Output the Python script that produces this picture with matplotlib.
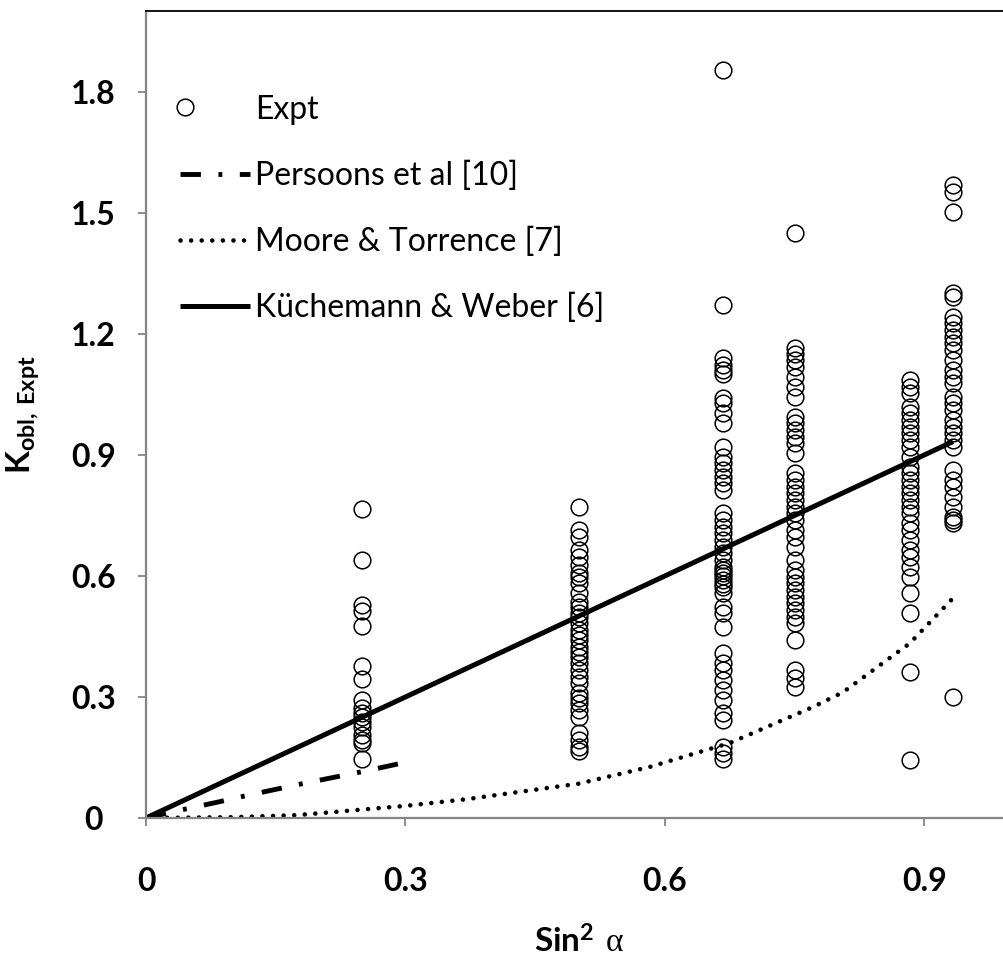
import matplotlib
matplotlib.use("Agg")
import matplotlib.pyplot as plt
from matplotlib.legend_handler import HandlerLine2D

plt.rcParams['font.family'] = ['Lato', 'DejaVu Sans']
plt.rcParams['mathtext.fontset'] = 'custom'
plt.rcParams['mathtext.rm'] = 'Liberation Serif'
plt.rcParams['mathtext.bf'] = 'Lato:bold'

# experimental columns (sin^2 alpha, K values)
x_cols = [0.25, 0.5, 0.667, 0.75, 0.883, 0.933]
k_025 = [0.766, 0.640, 0.528, 0.513, 0.476, 0.377, 0.345, 0.293, 0.273, 0.260,
         0.250, 0.238, 0.226, 0.206, 0.193, 0.186, 0.146]
k_050 = [0.771, 0.714, 0.697, 0.664, 0.647, 0.627, 0.607, 0.597, 0.583, 0.558,
         0.535, 0.523, 0.508, 0.498, 0.483, 0.466, 0.454, 0.441, 0.424, 0.412,
         0.399, 0.384, 0.367, 0.350, 0.335, 0.310, 0.297, 0.285, 0.268, 0.250,
         0.211, 0.193, 0.176, 0.165]
k_067 = [1.854, 1.272, 1.140, 1.123, 1.110, 1.100, 1.040, 1.029, 1.004, 0.979,
         0.920, 0.895, 0.880, 0.863, 0.845, 0.830, 0.813, 0.756, 0.739, 0.721,
         0.706, 0.689, 0.672, 0.657, 0.640, 0.622, 0.615, 0.607, 0.600, 0.590,
         0.580, 0.573, 0.558, 0.523, 0.508, 0.473, 0.409, 0.384, 0.367, 0.342,
         0.317, 0.293, 0.260, 0.243, 0.176, 0.161, 0.145]
k_075 = [1.450, 1.165, 1.150, 1.135, 1.118, 1.093, 1.068, 1.044, 0.994, 0.979,
         0.962, 0.944, 0.930, 0.905, 0.855, 0.838, 0.821, 0.806, 0.788, 0.771,
         0.756, 0.739, 0.714, 0.697, 0.672, 0.640, 0.615, 0.597, 0.583, 0.565,
         0.548, 0.533, 0.516, 0.498, 0.483, 0.441, 0.367, 0.347, 0.325]
k_088 = [1.086, 1.068, 1.054, 1.019, 1.004, 0.987, 0.969, 0.954, 0.937, 0.920,
         0.895, 0.870, 0.855, 0.838, 0.821, 0.806, 0.788, 0.771, 0.756, 0.731,
         0.714, 0.689, 0.664, 0.647, 0.622, 0.597, 0.558, 0.508, 0.362, 0.144]
k_093 = [1.569, 1.552, 1.502, 1.301, 1.290, 1.242, 1.227, 1.210, 1.192, 1.178,
         1.160, 1.135, 1.110, 1.093, 1.078, 1.044, 1.029, 1.011, 0.987, 0.969,
         0.954, 0.937, 0.920, 0.863, 0.838, 0.821, 0.796, 0.771, 0.746, 0.739,
         0.731, 0.300]
k_cols = [k_025, k_050, k_067, k_075, k_088, k_093]

# correlations
pers_x = [0, 0.043, 0.08, 0.115, 0.15, 0.185, 0.22, 0.255, 0.3]
pers_y = [0, 0.021, 0.038, 0.055, 0.071, 0.087, 0.102, 0.117, 0.138]
moore_x = [0, 0.1, 0.174, 0.3, 0.372, 0.5, 0.583, 0.675, 0.771, 0.806, 0.883, 0.933]
moore_y = [0, 0.002, 0.007, 0.03, 0.047, 0.085, 0.127, 0.186, 0.275, 0.312, 0.433, 0.545]
kw_x = [0, 0.933]
kw_y = [0, 0.933]

xticks = [0, 0.3, 0.6, 0.9]
yticks = [0, 0.3, 0.6, 0.9, 1.2, 1.5, 1.8]
xtick_labels = ['0', '0.3', '0.6', '0.9']
ytick_labels = ['0', '0.3', '0.6', '0.9', '1.2', '1.5', '1.8']


class LeftMarker(HandlerLine2D):
    # single legend marker sits at the middle point, so shrink the
    # (invisible) line to put the marker near the left end, like Excel
    def get_xdata(self, legend, xdescent, ydescent, width, height, fontsize):
        x0 = -xdescent
        xdata = [x0, x0 + 0.14 * width]
        return xdata, xdata


fig = plt.figure(figsize=(10.04, 9.63), dpi=100)
ax = fig.add_axes([146 / 1004, 145 / 963, 865 / 1004, 807 / 963])

xs, ys = [], []
for xc, col in zip(x_cols, k_cols):
    xs += [xc] * len(col)
    ys += col
expt, = ax.plot(xs, ys, 'o', ls='none', mfc='none', mec='black', ms=12, mew=1.1,
                label='Expt')
ax.plot(pers_x, pers_y, color='black', lw=3.5, ls=(0, (4.2, 3.6, 0.8, 3.6)),
        label='Persoons et al [10]')
ax.plot(moore_x, moore_y, color='black', lw=3.3, ls=(0, (0.01, 2.3)),
        dash_capstyle='round', label='Moore & Torrence [7]')
ax.plot(kw_x, kw_y, color='black', lw=3.6, solid_capstyle='butt',
        label='Küchemann & Weber [6]')

ax.set_xlim(0, 1.0)
ax.set_ylim(0, 2.0)
ax.set_xticks(xticks)
ax.set_xticklabels(xtick_labels, fontsize=23, fontweight='bold')
ax.set_yticks(yticks)
ax.set_yticklabels(ytick_labels, fontsize=23, fontweight='bold')
for lbl in ax.get_yticklabels():
    lbl.set_horizontalalignment('center')

ax.tick_params(axis='y', direction='out', length=6, width=1.3, color='#868686', pad=32)
ax.tick_params(axis='x', direction='out', length=6, width=1.3, color='#868686', pad=29)
for s in ['left', 'bottom']:
    ax.spines[s].set_color('#868686')
    ax.spines[s].set_linewidth(1.6)
for s in ['top', 'right']:
    ax.spines[s].set_color('black')
    ax.spines[s].set_linewidth(1.3)

ax.set_xlabel(r'$\mathbf{Sin^{2}}\ \mathrm{\alpha}$', fontsize=24, labelpad=22)
ax.set_ylabel(r'$\mathbf{K}_{\mathbf{obl,\,Expt}}$', fontsize=24, labelpad=20)

ax.legend(loc='upper left', bbox_to_anchor=(0.006, 0.932), frameon=False,
          fontsize=23, handlelength=2.2, handletextpad=0.15, labelspacing=1.12,
          handler_map={expt: LeftMarker()})

fig.savefig('out.png', dpi=100)
